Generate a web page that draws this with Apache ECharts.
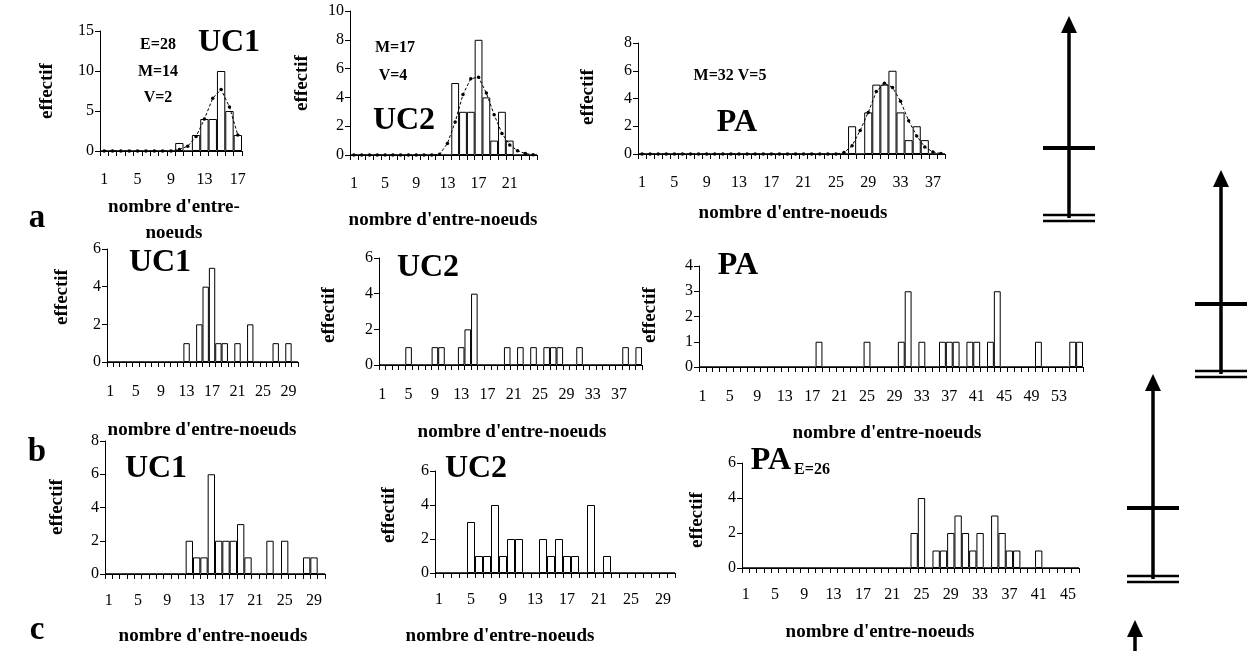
<!DOCTYPE html>
<html><head><meta charset="utf-8">
<script src="https://cdn.jsdelivr.net/npm/echarts@6/dist/echarts.min.js"></script>
<style>html,body{margin:0;padding:0;background:#fff}#c{width:1247px;height:651px}</style>
</head><body><div id="c"></div>
<script>
// ---------- DATA ----------
const catsA1 = ['1','2','3','4','5','6','7','8','9','10','11','12','13','14','15','16','17'];
const barsA1 = [0,0,0,0,0,0,0,0,0,1,0,2,4,4,10,5,2];
const curveA1 = [0,0,0,0,0,0,0,0,0,0.2,0.6,1.8,4.0,6.6,7.7,5.5,2.0];

const catsA2 = ['1','2','3','4','5','6','7','8','9','10','11','12','13','14','15','16','17','18','19','20','21','22','23','24'];
const barsA2 = [0,0,0,0,0,0,0,0,0,0,0,0,0,5,3,3,8,4,1,3,1,0,0,0];
const curveA2 = [0,0,0,0,0,0,0,0,0,0,0,0.05,0.8,2.3,4.2,5.3,5.4,4.3,2.8,1.5,0.7,0.3,0.1,0.02];

const catsA3 = ['1','2','3','4','5','6','7','8','9','10','11','12','13','14','15','16','17','18','19','20','21','22','23','24','25','26','27','28','29','30','31','32','33','34','35','36','37','38'];
const barsA3 = [0,0,0,0,0,0,0,0,0,0,0,0,0,0,0,0,0,0,0,0,0,0,0,0,0,0,2,0,3,5,5,6,3,1,2,1,0,0];
const curveA3 = [0,0,0,0,0,0,0,0,0,0,0,0,0,0,0,0,0,0,0,0,0,0,0,0,0,0.1,0.6,1.7,3.0,4.5,5.1,4.8,3.8,2.4,1.3,0.5,0.15,0.03];

const catsB1 = ['1','2','3','4','5','6','7','8','9','10','11','12','13','14','15','16','17','18','19','20','21','22','23','24','25','26','27','28','29','30'];
const barsB1 = [0,0,0,0,0,0,0,0,0,0,0,0,1,0,2,4,5,1,1,0,1,0,2,0,0,0,1,0,1,0];

const catsB2 = ['1','2','3','4','5','6','7','8','9','10','11','12','13','14','15','16','17','18','19','20','21','22','23','24','25','26','27','28','29','30','31','32','33','34','35','36','37','38','39','40'];
const barsB2 = [0,0,0,0,1,0,0,0,1,1,0,0,1,2,4,0,0,0,0,1,0,1,0,1,0,1,1,1,0,0,1,0,0,0,0,0,0,1,0,1];

const catsB3 = ['1','2','3','4','5','6','7','8','9','10','11','12','13','14','15','16','17','18','19','20','21','22','23','24','25','26','27','28','29','30','31','32','33','34','35','36','37','38','39','40','41','42','43','44','45','46','47','48','49','50','51','52','53','54','55','56'];
const barsB3 = [0,0,0,0,0,0,0,0,0,0,0,0,0,0,0,0,0,1,0,0,0,0,0,0,1,0,0,0,0,1,3,0,1,0,0,1,1,1,0,1,1,0,1,3,0,0,0,0,0,1,0,0,0,0,1,1];

const catsC1 = ['1','2','3','4','5','6','7','8','9','10','11','12','13','14','15','16','17','18','19','20','21','22','23','24','25','26','27','28','29','30'];
const barsC1 = [0,0,0,0,0,0,0,0,0,0,0,2,1,1,6,2,2,2,3,1,0,0,2,0,2,0,0,1,1,0];

const catsC2 = ['1','2','3','4','5','6','7','8','9','10','11','12','13','14','15','16','17','18','19','20','21','22','23','24','25','26','27','28','29','30'];
const barsC2 = [0,0,0,0,3,1,1,4,1,2,2,0,0,2,1,2,1,1,0,4,0,1,0,0,0,0,0,0,0,0];

const catsC3 = ['1','2','3','4','5','6','7','8','9','10','11','12','13','14','15','16','17','18','19','20','21','22','23','24','25','26','27','28','29','30','31','32','33','34','35','36','37','38','39','40','41','42','43','44','45','46'];
const barsC3 = [0,0,0,0,0,0,0,0,0,0,0,0,0,0,0,0,0,0,0,0,0,0,0,2,4,0,1,1,2,3,2,1,2,0,3,2,1,1,0,0,1,0,0,0,0,0];

const yMax = [15,10,8,6,6,4,8,6,6];
const yStep = [5,2,2,2,2,1,2,2,2];

// ---------- LAYOUT ----------
const F = 'Liberation Serif';
const panels = [
  {cats:catsA1, bars:barsA1, curve:curveA1, g:[100,31,142,120], m:21},
  {cats:catsA2, bars:barsA2, curve:curveA2, g:[350,11,187,144], m:21},
  {cats:catsA3, bars:barsA3, curve:curveA3, g:[638,43,307,111], m:21},
  {cats:catsB1, bars:barsB1, g:[107,249,191,113], m:22},
  {cats:catsB2, bars:barsB2, g:[379,258,263,107], m:22},
  {cats:catsB3, bars:barsB3, g:[699,266,384,101], m:22},
  {cats:catsC1, bars:barsC1, g:[105,441,220,133], m:19},
  {cats:catsC2, bars:barsC2, g:[435,471,240,102], m:19},
  {cats:catsC3, bars:barsC3, g:[742,463,337,105], m:19}
];

const grid=[], xAxis=[], yAxis=[], series=[];
panels.forEach((p,i)=>{
  grid.push({left:p.g[0], top:p.g[1], width:p.g[2], height:p.g[3], containLabel:false});
  xAxis.push({type:'category', gridIndex:i, data:p.cats, boundaryGap:true,
    axisLine:{lineStyle:{color:'#000',width:1}},
    axisTick:{show:true, interval:0, length:5, lineStyle:{color:'#000'}},
    axisLabel:{interval:3, margin:p.m, color:'#000', fontFamily:F, fontSize:16},
    splitLine:{show:false}});
  yAxis.push({type:'value', gridIndex:i, min:0, max:yMax[i], interval:yStep[i],
    axisLine:{show:true, lineStyle:{color:'#000',width:1}},
    axisTick:{show:true, length:5, lineStyle:{color:'#000'}},
    axisLabel:{color:'#000', fontFamily:F, fontSize:16, margin:6},
    splitLine:{show:false}});
  series.push({type:'bar', xAxisIndex:i, yAxisIndex:i, data:p.bars, barCategoryGap:'0%',
    itemStyle:{color:'#fff', borderColor:'#000', borderWidth:1}, silent:true, z:2});
  if(p.curve){
    series.push({type:'line', xAxisIndex:i, yAxisIndex:i, data:p.curve, symbol:'circle', symbolSize:3.5,
      itemStyle:{color:'#000'}, lineStyle:{color:'#000', width:1, type:[3,2]}, z:5, silent:true});
  }
});

// ---------- TEXT ----------
function txt(s,x,y,size,bold,rot){
  return {type:'text', x:x, y:y, rotation:rot||0, z:10,
    style:{text:s, font:(bold?'bold ':'')+size+'px "'+F+'"', fill:'#000', align:'center', verticalAlign:'middle',
      textAlign:'center', textVerticalAlign:'middle'}};
}
const R = Math.PI/2;
const NS = 19;
const graphics = [
  txt('a',37,218,33,true), txt('b',37,452,33,true), txt('c',37,630,33,true),
  // row a
  txt('E=28',158,45,16,true), txt('M=14',158,72,16,true), txt('V=2',158,98,16,true),
  txt('UC1',229,43,32,true),
  txt('M=17',395,48,16,true), txt('V=4',393,76,16,true), txt('UC2',404,121,32,true),
  txt('M=32 V=5',730,76,16,true), txt('PA',737,123,32,true),
  txt("nombre d'entre-",174,207,NS,true), txt('noeuds',174,233,NS,true),
  txt("nombre d'entre-noeuds",443,220,NS,true),
  txt("nombre d'entre-noeuds",793,213,NS,true),
  txt('effectif',47,91,NS,true,R), txt('effectif',302,83,NS,true,R), txt('effectif',588,97,NS,true,R),
  // row b
  txt('UC1',160,263,32,true), txt('UC2',428,268,32,true), txt('PA',738,266,32,true),
  txt("nombre d'entre-noeuds",202,430,NS,true), txt("nombre d'entre-noeuds",512,432,NS,true),
  txt("nombre d'entre-noeuds",887,433,NS,true),
  txt('effectif',62,297,NS,true,R), txt('effectif',329,315,NS,true,R), txt('effectif',650,315,NS,true,R),
  // row c
  txt('UC1',156,469,32,true), txt('UC2',476,469,32,true), txt('PA',771,461,32,true),
  txt('E=26',812,470,16,true),
  txt("nombre d'entre-noeuds",213,636,NS,true), txt("nombre d'entre-noeuds",500,636,NS,true),
  txt("nombre d'entre-noeuds",880,632,NS,true),
  txt('effectif',57,507,NS,true,R), txt('effectif',389,515,NS,true,R), txt('effectif',697,520,NS,true,R)
];

// ---------- RIGHT-SIDE DIAGRAMS ----------
function seg(x1,y1,x2,y2,w){return {type:'line', z:10, shape:{x1,y1,x2,y2}, style:{stroke:'#000', lineWidth:w}};}
function head(x,y){return {type:'polygon', z:10, shape:{points:[[x,y],[x-8,y+17],[x+8,y+17]]}, style:{fill:'#000'}};}
function diagram(x,tip,mid,dbl,half){
  return [seg(x,tip+10,x,dbl+3,3.5), head(x,tip),
    seg(x-half,mid,x+half,mid,4),
    seg(x-half,dbl,x+half,dbl,2.5), seg(x-half,dbl+6,x+half,dbl+6,2.5)];
}
graphics.push(...diagram(1069,16,148,215,26));
graphics.push(...diagram(1221,170,304,371,26));
graphics.push(...diagram(1153,374,508,576,26));
graphics.push(seg(1135,632,1135,651,3.5), head(1135,620));

const chart = echarts.init(document.getElementById('c'), null, {renderer:'canvas'});
chart.setOption({animation:false, backgroundColor:'#fff', grid, xAxis, yAxis, series, graphic:graphics});
</script></body></html>
